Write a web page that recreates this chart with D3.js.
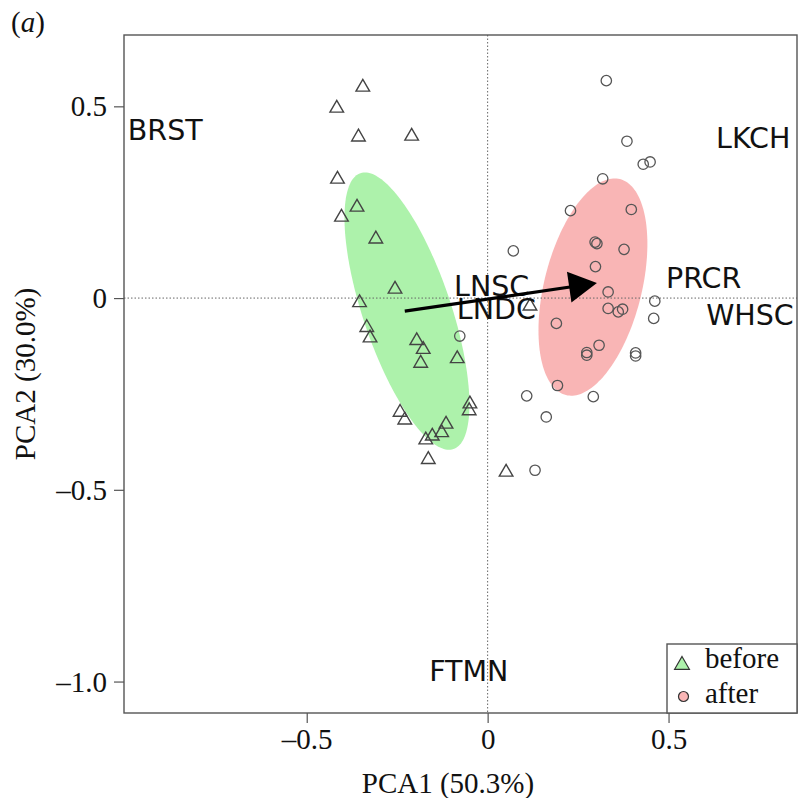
<!DOCTYPE html>
<html>
<head>
<meta charset="utf-8">
<script src="https://cdn.jsdelivr.net/npm/d3@7"></script>
<style>
  html, body { margin: 0; padding: 0; background: #fff; }
  svg { display: block; }
</style>
</head>
<body>
<svg id="chart" width="798" height="798"></svg>
<script>
// ---------- data ----------
const beforeX = [-0.345,-0.417,-0.357,-0.210,-0.415,-0.361,-0.404,-0.309,-0.256,-0.354,-0.334,-0.325,-0.196,-0.178,-0.185,-0.084,-0.049,-0.051,-0.242,-0.229,-0.115,-0.127,-0.153,-0.171,-0.164,0.051,0.117];
const beforeY = [0.550,0.495,0.420,0.422,0.310,0.237,0.211,0.154,0.023,-0.012,-0.077,-0.104,-0.111,-0.134,-0.170,-0.158,-0.276,-0.294,-0.298,-0.318,-0.329,-0.351,-0.360,-0.370,-0.421,-0.454,-0.021];

const afterX = [0.328,0.385,0.430,0.449,0.318,0.229,0.397,0.297,0.302,0.377,0.071,0.298,0.333,0.333,0.361,0.373,0.462,0.459,0.190,0.308,0.274,0.274,0.409,0.409,0.193,0.108,0.292,0.162,0.131,-0.077];
const afterY = [0.567,0.409,0.349,0.355,0.311,0.228,0.231,0.146,0.142,0.127,0.123,0.082,0.016,-0.027,-0.036,-0.029,-0.008,-0.053,-0.066,-0.123,-0.149,-0.142,-0.143,-0.151,-0.228,-0.255,-0.257,-0.310,-0.449,-0.099];

// confidence ellipses: centre and two conjugate semi-axis vectors (data units)
const ellipseBeforeCentre = [-0.223, -0.034];
const ellipseBeforeU = [0.1285, -0.3598];
const ellipseBeforeV = [-0.1153, -0.0365];
const ellipseAfterCentre = [0.291, 0.0287];
const ellipseAfterU = [0.0746, 0.2816];
const ellipseAfterV = [0.1307, -0.0308];

// arrow from "before" centroid to "after" centroid
const arrowFrom = [-0.229, -0.034];
const arrowTo = [0.302, 0.039];

// variable labels
const varNames = ["BRST","LKCH","PRCR","WHSC","LNSC","LNDC","FTMN"];
const varX = [-0.891, 0.734, 0.597, 0.725, 0.011, 0.024, -0.052];
const varY = [0.440, 0.418, 0.053, -0.042, 0.034, -0.026, -0.971];

const xTickValues = [-0.5, 0, 0.5];
const xTickLabels = ["\u20130.5", "0", "0.5"];
const yTickValues = [-1.0, -0.5, 0, 0.5];
const yTickLabels = ["\u20131.0", "\u20130.5", "0", "0.5"];

const legendLabels = ["before", "after"];
const xTitle = "PCA1 (50.3%)";
const yTitle = "PCA2 (30.0%)";

// ---------- drawing ----------
const svg = d3.select("#chart");
const x = d3.scaleLinear().domain([-1.005, 0.855]).range([124, 797]);
const y = d3.scaleLinear().domain([-1.082, 0.686]).range([713, 35]);

const green = "#adf2ab";
const pink = "#f9b5b5";
const serif = "'Liberation Serif', 'Times New Roman', serif";
const sans = "'DejaVu Sans', Verdana, sans-serif";

function ellipsePath(c, u, v) {
  const ts = d3.range(0, 2 * Math.PI, Math.PI / 90);
  const pts = ts.map(t => [x(c[0] + Math.cos(t) * u[0] + Math.sin(t) * v[0]),
                           y(c[1] + Math.cos(t) * u[1] + Math.sin(t) * v[1])]);
  return d3.line().curve(d3.curveLinearClosed)(pts);
}

svg.append("path").attr("d", ellipsePath(ellipseBeforeCentre, ellipseBeforeU, ellipseBeforeV)).attr("fill", green);
svg.append("path").attr("d", ellipsePath(ellipseAfterCentre, ellipseAfterU, ellipseAfterV)).attr("fill", pink);

// zero reference lines
svg.append("line").attr("x1", x(0)).attr("x2", x(0)).attr("y1", y.range()[1]).attr("y2", y.range()[0])
  .attr("stroke", "#666").attr("stroke-width", 1).attr("stroke-dasharray", "1.5,2");
svg.append("line").attr("x1", x.range()[0]).attr("x2", x.range()[1]).attr("y1", y(0)).attr("y2", y(0))
  .attr("stroke", "#666").attr("stroke-width", 1).attr("stroke-dasharray", "1.5,2");

// points
const tri = d3.symbol().type(d3.symbolTriangle).size(80);
svg.append("g").selectAll("path").data(d3.range(beforeX.length)).join("path")
  .attr("d", tri)
  .attr("transform", i => `translate(${x(beforeX[i])},${y(beforeY[i])})`)
  .attr("fill", "none").attr("stroke", "#444").attr("stroke-width", 1.4);

svg.append("g").selectAll("circle").data(d3.range(afterX.length)).join("circle")
  .attr("cx", i => x(afterX[i])).attr("cy", i => y(afterY[i])).attr("r", 5.2)
  .attr("fill", "none").attr("stroke", "#555").attr("stroke-width", 1.3);

// variable labels
svg.append("g").selectAll("text").data(d3.range(varNames.length)).join("text")
  .attr("x", i => x(varX[i])).attr("y", i => y(varY[i])).attr("dy", "0.37em")
  .attr("text-anchor", "middle")
  .style("font-family", sans).style("font-size", "28.5px").attr("fill", "#111")
  .text(i => varNames[i]);

// arrow
{
  const x1 = x(arrowFrom[0]), y1 = y(arrowFrom[1]);
  const x2 = x(arrowTo[0]), y2 = y(arrowTo[1]);
  const dx = x2 - x1, dy = y2 - y1, L = Math.hypot(dx, dy);
  const ux = dx / L, uy = dy / L, nx = -uy, ny = ux;
  const hl = 28, hw = 15.5;
  svg.append("line").attr("x1", x1).attr("y1", y1)
    .attr("x2", x2 - ux * hl * 0.6).attr("y2", y2 - uy * hl * 0.6)
    .attr("stroke", "#000").attr("stroke-width", 3.2);
  const bx = x2 - ux * hl, by = y2 - uy * hl;
  svg.append("path")
    .attr("d", `M${x2},${y2}L${bx + nx * hw},${by + ny * hw}L${bx - nx * hw},${by - ny * hw}Z`)
    .attr("fill", "#000");
}

// frame
svg.append("rect").attr("x", x.range()[0]).attr("y", y.range()[1])
  .attr("width", x.range()[1] - x.range()[0]).attr("height", y.range()[0] - y.range()[1])
  .attr("fill", "none").attr("stroke", "#555").attr("stroke-width", 1.4);

// axes
const xAxis = svg.append("g").attr("transform", `translate(0,${y.range()[0]})`)
  .call(d3.axisBottom(x).tickValues(xTickValues).tickSize(10).tickFormat((d, i) => xTickLabels[i]));
xAxis.select(".domain").remove();
xAxis.selectAll("line").attr("stroke", "#555").attr("stroke-width", 1.2);
xAxis.selectAll("text").attr("y", 36).attr("dy", null)
  .style("font-family", serif).style("font-size", "29px").attr("fill", "#111");

const yAxis = svg.append("g").attr("transform", `translate(${x.range()[0]},0)`)
  .call(d3.axisLeft(y).tickValues(yTickValues).tickSize(10).tickFormat((d, i) => yTickLabels[i]));
yAxis.select(".domain").remove();
yAxis.selectAll("line").attr("stroke", "#555").attr("stroke-width", 1.2);
yAxis.selectAll("text").attr("x", -17).attr("dy", "0.33em")
  .style("font-family", serif).style("font-size", "29px").attr("fill", "#111");

// axis titles
svg.append("text").attr("x", 448).attr("y", 793).attr("text-anchor", "middle")
  .style("font-family", serif).style("font-size", "29px").attr("fill", "#111").text(xTitle);
svg.append("text").attr("transform", `translate(35,${(y.range()[0] + y.range()[1]) / 2}) rotate(-90)`)
  .attr("text-anchor", "middle")
  .style("font-family", serif).style("font-size", "29px").attr("fill", "#111").text(yTitle);

// panel label
const pl = svg.append("text").attr("x", 11).attr("y", 32)
  .style("font-family", serif).style("font-size", "29px").attr("fill", "#111");
pl.append("tspan").text("(");
pl.append("tspan").style("font-style", "italic").text("a");
pl.append("tspan").text(")");

// legend
{
  const lw = 130, lh = 69;
  const lx = x.range()[1] - lw, ly = y.range()[0] - lh;
  const lg = svg.append("g");
  lg.append("rect").attr("x", lx).attr("y", ly).attr("width", lw).attr("height", lh)
    .attr("fill", "#fff").attr("stroke", "#555").attr("stroke-width", 1.4);
  lg.append("path").attr("d", d3.symbol().type(d3.symbolTriangle).size(95))
    .attr("transform", `translate(${lx + 15},${ly + 21})`)
    .attr("fill", green).attr("stroke", "#333").attr("stroke-width", 1.2);
  lg.append("circle").attr("cx", lx + 16.5).attr("cy", ly + 52.5).attr("r", 5)
    .attr("fill", pink).attr("stroke", "#333").attr("stroke-width", 1.2);
  lg.selectAll("text.leg").data(legendLabels).join("text").attr("class", "leg")
    .attr("x", lx + 38).attr("y", (d, i) => ly + 23.5 + i * 35)
    .style("font-family", serif).style("font-size", "29px").attr("fill", "#111")
    .text(d => d);
}
</script>
</body>
</html>
